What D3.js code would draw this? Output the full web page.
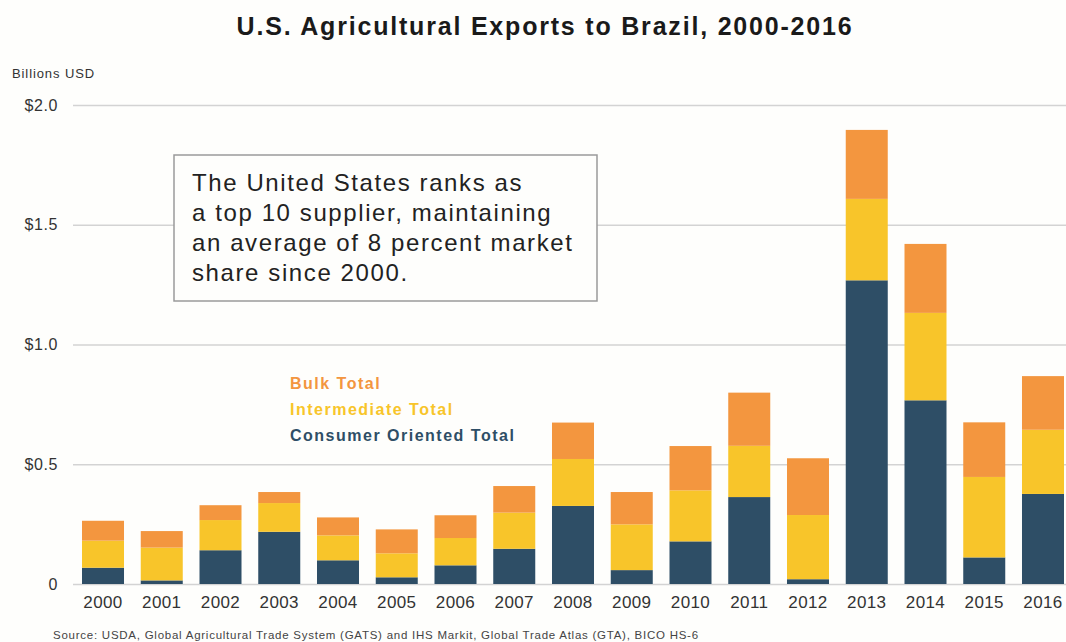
<!DOCTYPE html>
<html><head><meta charset="utf-8">
<script src="https://cdn.jsdelivr.net/npm/d3@7"></script>
<style>body{margin:0;background:#fefefc;} svg{display:block;}</style>
</head><body>
<script>
const years = ["2000","2001","2002","2003","2004","2005","2006","2007","2008","2009","2010","2011","2012","2013","2014","2015","2016"];
const consumerOriented = [0.068,0.015,0.141,0.218,0.099,0.028,0.078,0.147,0.326,0.058,0.178,0.363,0.020,1.268,0.767,0.111,0.376];
const intermediate = [0.113,0.137,0.126,0.120,0.104,0.100,0.114,0.151,0.196,0.191,0.213,0.214,0.268,0.340,0.365,0.336,0.268];
const bulk = [0.083,0.069,0.062,0.046,0.075,0.100,0.095,0.111,0.152,0.135,0.185,0.222,0.237,0.288,0.288,0.228,0.224];
const yTicks = [0, 0.5, 1.0, 1.5, 2.0];
const yTickLabels = ["0", "$0.5", "$1.0", "$1.5", "$2.0"];
const seriesNames = ["Consumer Oriented Total", "Intermediate Total", "Bulk Total"];
const seriesColors = ["#2e4e66", "#f8c52a", "#f3963f"];
const noteLines = ["The United States ranks as", "a top 10 supplier, maintaining", "an average of 8 percent market", "share since 2000."];

const W = 1066, H = 642;
const FONT = "Liberation Sans, Arial, sans-serif";
const svg = d3.select("body").append("svg").attr("width", W).attr("height", H);
svg.append("rect").attr("width", W).attr("height", H).attr("fill", "#fefefc");

const y = d3.scaleLinear().domain([0, 2]).range([584, 105]);
const x = d3.scaleBand().domain(years).range([82, 1064]).paddingInner(0.285).paddingOuter(0);

// grid
const yAxis = d3.axisLeft(y).tickValues(yTicks).tickFormat((d, i) => yTickLabels[i]).tickSize(-(W - 73)).tickPadding(15);
const gy = svg.append("g").attr("transform", "translate(73,0)").call(yAxis);
gy.select(".domain").remove();
gy.selectAll(".tick line").attr("stroke", "#d3d3d3").attr("stroke-width", 1.5);
gy.selectAll(".tick text").attr("font-family", FONT).attr("font-size", 16).attr("fill", "#333").attr("letter-spacing", 0.6);

svg.append("text").attr("x", 12).attr("y", 78).text("Billions USD")
  .attr("font-family", FONT).attr("font-size", 13).attr("fill", "#333").attr("letter-spacing", 0.9);

// stacked data
const data = years.map((yr, i) => ({year: yr, c: consumerOriented[i], m: intermediate[i], b: bulk[i]}));
const stack = d3.stack().keys(["c", "m", "b"]);
const layers = stack(data);
svg.append("g").selectAll("g").data(layers).join("g")
  .attr("fill", (d, i) => seriesColors[i])
  .selectAll("rect").data(d => d).join("rect")
  .attr("x", d => x(d.data.year))
  .attr("width", x.bandwidth())
  .attr("y", d => y(d[1]))
  .attr("height", d => y(d[0]) - y(d[1]));

// x axis
const xAxis = d3.axisBottom(x).tickSize(0).tickPadding(10);
const gx = svg.append("g").attr("transform", "translate(0,586)").call(xAxis);
gx.select(".domain").remove();
gx.selectAll(".tick text").attr("font-family", FONT).attr("font-size", 17).attr("fill", "#333").attr("letter-spacing", 0.4);

// title
svg.append("text").attr("x", 545).attr("y", 35).attr("text-anchor", "middle")
  .text("U.S. Agricultural Exports to Brazil, 2000-2016")
  .attr("font-family", FONT).attr("font-weight", "bold").attr("font-size", 25).attr("fill", "#1a1a1a").attr("letter-spacing", 1.8);

// note box
svg.append("rect").attr("x", 174).attr("y", 155).attr("width", 423).attr("height", 146)
  .attr("fill", "#fefefc").attr("stroke", "#9a9a9a").attr("stroke-width", 1.5);
svg.append("g").selectAll("text").data(noteLines).join("text")
  .attr("x", 192).attr("y", (d, i) => 191 + i * 30).text(d => d)
  .attr("font-family", FONT).attr("font-size", 24).attr("fill", "#222").attr("letter-spacing", 1.6);

// legend
const legendOrder = [2, 1, 0];
svg.append("g").selectAll("text").data(legendOrder).join("text")
  .attr("x", 290).attr("y", (d, i) => 389 + i * 26)
  .text(d => seriesNames[d]).attr("fill", d => seriesColors[d])
  .attr("font-family", FONT).attr("font-weight", "bold").attr("font-size", 16).attr("letter-spacing", 1.5);

// source
svg.append("text").attr("x", 53).attr("y", 639)
  .text("Source:  USDA, Global Agricultural Trade System (GATS) and IHS Markit, Global Trade Atlas (GTA), BICO HS-6")
  .attr("font-family", FONT).attr("font-size", 11.5).attr("fill", "#444").attr("letter-spacing", 0.75);
</script>
</body></html>
